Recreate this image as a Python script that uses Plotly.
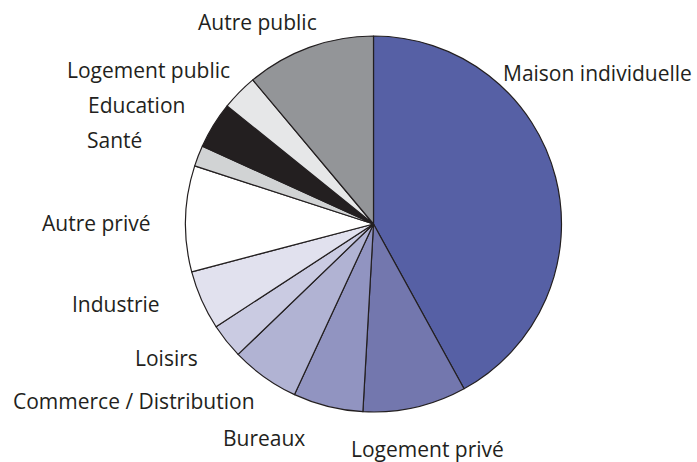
import plotly.graph_objects as go

categories = ["Maison individuelle", "Logement privé", "Bureaux", "Commerce / Distribution",
              "Loisirs", "Industrie", "Autre privé", "Santé", "Education",
              "Logement public", "Autre public"]
values = [42.0, 8.9, 6.0, 5.9, 3.0, 5.1, 9.1, 1.8, 4.0, 3.1, 11.1]
colors = ["#5660A5", "#7377AE", "#9194C1", "#B1B3D3", "#CACBE2", "#E1E1EE",
          "#FFFFFF", "#D1D3D4", "#231F20", "#E6E7E8", "#939598"]

# label placement (paper px centers) for each category
label_x = [597, 427, 264, 134, 166, 116, 96, 115, 136, 148, 257]
label_y = [73, 449, 438, 401, 358, 304, 223, 140, 105, 70, 22]

W, H = 697, 462
cx, cy, r = 373.5, 224, 188

fig = go.Figure(go.Pie(
    labels=categories, values=values, sort=False, direction="clockwise", rotation=0,
    marker=dict(colors=colors, line=dict(color="#231F20", width=1.2)),
    textinfo="none", hoverinfo="label+percent",
    domain=dict(x=[(cx - r) / W, (cx + r) / W], y=[(H - cy - r) / H, (H - cy + r) / H]),
))

for name, x, y in zip(categories, label_x, label_y):
    fig.add_annotation(x=x / W, y=1 - y / H, xref="paper", yref="paper", text=name,
                       showarrow=False, xanchor="center", yanchor="middle",
                       font=dict(family="Open Sans", size=21, color="#231F20"))

fig.update_layout(width=W, height=H, margin=dict(l=0, r=0, t=0, b=0),
                  showlegend=False, paper_bgcolor="white", plot_bgcolor="white")
fig.write_html("out.html", config={"displayModeBar": False},
               post_script="document.body.style.margin='0';")
